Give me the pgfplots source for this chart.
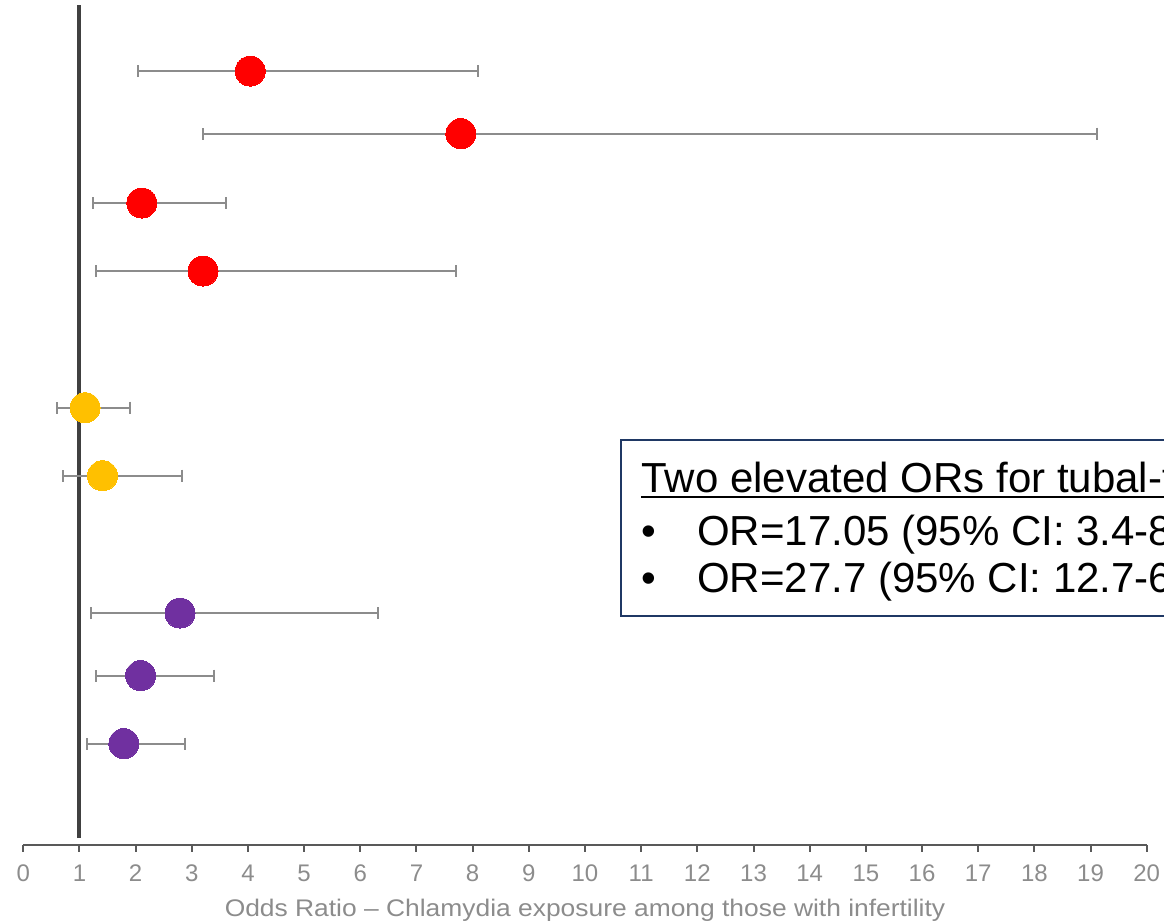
\documentclass[border=0pt]{standalone}
\usepackage{fontspec}
\setmainfont{Liberation Sans}
\usepackage{pgfplots}
\usepackage{pgfplotstable}
\pgfplotsset{compat=1.18}

\definecolor{ptred}{HTML}{FF0000}
\definecolor{ptyellow}{HTML}{FFC000}
\definecolor{ptpurple}{HTML}{7030A0}
\definecolor{barGray}{HTML}{8C8C8C}
\definecolor{refLine}{HTML}{404040}
\definecolor{axisGray}{HTML}{595959}
\definecolor{labelGray}{HTML}{8C8C8C}
\definecolor{boxNavy}{HTML}{1F3864}

% odds ratio, row position, lower and upper 95% CI limits
\pgfplotstableread{
or    pos    lo     hi
4.04  11.38  2.04   8.09
7.79  10.46  3.20   19.11
2.11  9.44   1.24   3.61
3.20  8.44   1.29   7.70
}\redrows
\pgfplotstableread{
or    pos    lo     hi
1.10  6.43   0.605  1.90
1.41  5.43   0.70   2.83
}\yellowrows
\pgfplotstableread{
or    pos    lo     hi
2.79  3.41   1.20   6.31
2.09  2.49   1.29   3.39
1.79  1.49   1.13   2.88
}\purplerows

\pgfplotsset{
  forest/.style={
    color=#1,
    only marks, mark=*, mark size=7.5pt,
    mark options={fill=#1, draw=#1, line width=0pt},
    error bars/x dir=both, error bars/x explicit,
    error bars/error bar style={draw=barGray, line width=1.1pt},
    error bars/error mark options={draw=barGray, line width=1.1pt, mark size=3pt, rotate=90},
  },
}

\begin{document}
\begin{tikzpicture}
\path[use as bounding box] (-11.65pt,-39.5pt) rectangle (570.35pt,422.5pt);
\begin{axis}[
  at={(0pt,0pt)}, anchor=south west,
  scale only axis,
  width=561.7pt, height=422.5pt,
  xmin=0, xmax=20, ymin=0, ymax=12.426,
  axis y line=none,
  axis x line=bottom,
  axis line style={-, draw=axisGray, line width=1pt},
  xtick={0,...,20},
  tick align=outside,
  major tick length=3.5pt,
  tick style={draw=axisGray, line width=1pt},
  /pgf/number format/assume math mode=true,
  xticklabel style={font=\fontsize{12}{14}\selectfont, text=labelGray,
    anchor=base, yshift=-15pt},
  xlabel={Odds Ratio – Chlamydia exposure among those with infertility},
  xlabel style={font=\fontsize{12}{14}\selectfont, text=labelGray, xscale=1.1,
    at={(axis description cs:0.5,0)}, anchor=base, yshift=-36pt},
  clip=false,
]
% reference line at OR = 1
\addplot[no marks, draw=refLine, line width=2pt]
  coordinates {(1,0.10) (1,12.35)};

\addplot[forest=ptred]
  table[x=or, y=pos, x error plus expr=\thisrow{hi}-\thisrow{or},
        x error minus expr=\thisrow{or}-\thisrow{lo}] {\redrows};
\addplot[forest=ptyellow]
  table[x=or, y=pos, x error plus expr=\thisrow{hi}-\thisrow{or},
        x error minus expr=\thisrow{or}-\thisrow{lo}] {\yellowrows};
\addplot[forest=ptpurple]
  table[x=or, y=pos, x error plus expr=\thisrow{hi}-\thisrow{or},
        x error minus expr=\thisrow{or}-\thisrow{lo}] {\purplerows};

% note box
\draw[boxNavy, line width=1pt, fill=white] (axis cs:10.64,3.368) rectangle (axis cs:25,5.956);
\node[anchor=base west, inner sep=0pt, font=\fontsize{21}{25}\selectfont] (head)
  at (axis cs:11.0,5.19) {Two elevated ORs for tubal-factor infertility};
\draw[black, line width=1pt] ([yshift=-2.6pt]head.base west) -- ([yshift=-2.6pt]head.base east);
\node[anchor=base west, inner sep=0pt, font=\fontsize{21}{25}\selectfont]
  at (axis cs:11.0,4.41) {•};
\node[anchor=base west, inner sep=0pt, font=\fontsize{21}{25}\selectfont]
  at (axis cs:11.99,4.41) {OR=17.05 (95\% CI: 3.4-85.4)};
\node[anchor=base west, inner sep=0pt, font=\fontsize{21}{25}\selectfont]
  at (axis cs:11.0,3.706) {•};
\node[anchor=base west, inner sep=0pt, font=\fontsize{21}{25}\selectfont]
  at (axis cs:11.99,3.706) {OR=27.7 (95\% CI: 12.7-60.3)};
\end{axis}
\end{tikzpicture}
\end{document}
